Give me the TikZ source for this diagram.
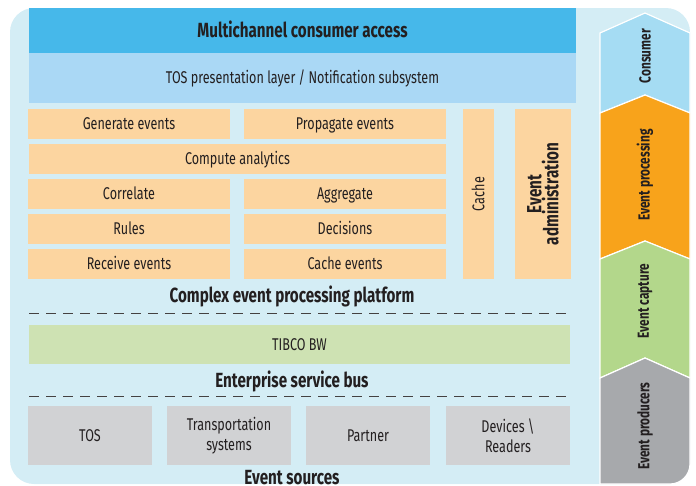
\documentclass[tikz,border=0pt]{standalone}
\usepackage{fontspec}
\setmainfont[FakeStretch=0.74]{Fira Sans}
\usetikzlibrary{shapes,backgrounds,calc}
\definecolor{ink}{HTML}{231F20}
\definecolor{bgblue}{HTML}{D4EDF5}
\definecolor{accessblue}{HTML}{46B8EA}
\definecolor{layerblue}{HTML}{AAD8F5}
\definecolor{cepfill}{HTML}{FCD5A0}
\definecolor{esbfill}{HTML}{CEE2B3}
\definecolor{srcfill}{HTML}{D1D2D4}
\definecolor{conscol}{HTML}{A5DCF3}
\definecolor{proccol}{HTML}{F8A31B}
\definecolor{captcol}{HTML}{B3D78B}
\definecolor{prodcol}{HTML}{A7A9AC}

\begin{document}
\begin{tikzpicture}[x=1pt,y=-1pt,
  every node/.style={text=ink,inner sep=0pt},
  lbl/.style={font=\fontsize{17}{19}\selectfont,text height=11.8pt,text depth=0pt},
  head/.style={font=\fontsize{20.5}{18}\selectfont\bfseries,text height=14pt,text depth=0pt},
  chevtext/.style={font=\fontsize{16}{16}\selectfont\bfseries,rotate=90},
  cepbox/.style={fill=cepfill,minimum height=30pt,lbl},
  srcbox/.style={fill=srcfill,minimum width=124pt,minimum height=59pt,font=\fontsize{17}{20}\selectfont,align=center},
  chev/.style={draw=white,line width=1.2pt},
  sep/.style={draw=ink!85,line width=0.8pt,dash pattern=on 10pt off 7pt}]
\useasboundingbox (0,0) rectangle (696,485);
\fill[bgblue,rounded corners=24pt] (10,8) rectangle (690,484);

\node[fill=accessblue,minimum width=547pt,minimum height=45pt,head] (access) at (302.5,30.5) {Multichannel consumer access};
\node[fill=layerblue,minimum width=547pt,minimum height=50pt,lbl] (layer) at (302.5,78) {TOS presentation layer / Notification subsystem};

\foreach \y/\l/\r/\n in {124/Generate events/Propagate events/gen,194/Correlate/Aggregate/cor,229/Rules/Decisions/rul,264/Receive events/Cache events/rec}
{
\node[cepbox,minimum width=202pt] (\n-l) at (129,\y) {\l};
\node[cepbox,minimum width=202pt] (\n-r) at (345,\y) {\r};
}
\node[cepbox,minimum width=417pt] (compute) at (237.5,159) {Compute analytics};
\node[cepbox,rotate=90,minimum width=170pt,minimum height=31pt] (cache) at (478.5,194) {Cache};
\node[fill=cepfill,rotate=90,minimum width=170pt,minimum height=56pt,font=\fontsize{20.5}{17}\selectfont\bfseries,align=center] (admin) at (543,194) {Event\\administration};

\node[head] (cep) at (292,295) {Complex event processing platform};
\coordinate (sepa-w) at (29,313);
\coordinate (sepa-e) at (571,313);
\draw[sep] (sepa-w) -- (sepa-e);

\node[fill=esbfill,minimum width=541pt,minimum height=39pt,lbl] (tibco) at (299.5,344.5) {TIBCO BW};
\node[head] (esb) at (292,380) {Enterprise service bus};
\coordinate (sepb-w) at (29,396);
\coordinate (sepb-e) at (571,396);
\draw[sep] (sepb-w) -- (sepb-e);

\foreach \x/\t/\n in {90/TOS/tos,229/{Transportation\\systems}/transp,368/Partner/partner,508/{Devices \textbackslash\\Readers}/devices}
\node[srcbox] (\n) at (\x,435.5) {\t};
\node[head] (sources) at (292,477) {Event sources};

\filldraw[chev,fill=conscol] (600,33) -- (645,13) -- (690,33) -- (690,113) -- (645,95) -- (600,113) -- cycle;
\filldraw[chev,fill=proccol] (600,113) -- (645,95) -- (690,113) -- (690,259) -- (645,241) -- (600,259) -- cycle;
\filldraw[chev,fill=captcol] (600,259) -- (645,241) -- (690,259) -- (690,378) -- (645,358) -- (600,378) -- cycle;
\filldraw[chev,fill=prodcol] (600,378) -- (645,358) -- (690,378) [rounded corners=20pt] -- (690,484) [sharp corners] -- (600,484) -- cycle;
\node[chevtext] (consumer) at (645,56) {Consumer};
\node[chevtext] (processing) at (645,175) {Event processing};
\node[chevtext] (capture) at (645,301) {Event capture};
\node[chevtext] (producers) at (645,426) {Event producers};
\end{tikzpicture}
\end{document}
